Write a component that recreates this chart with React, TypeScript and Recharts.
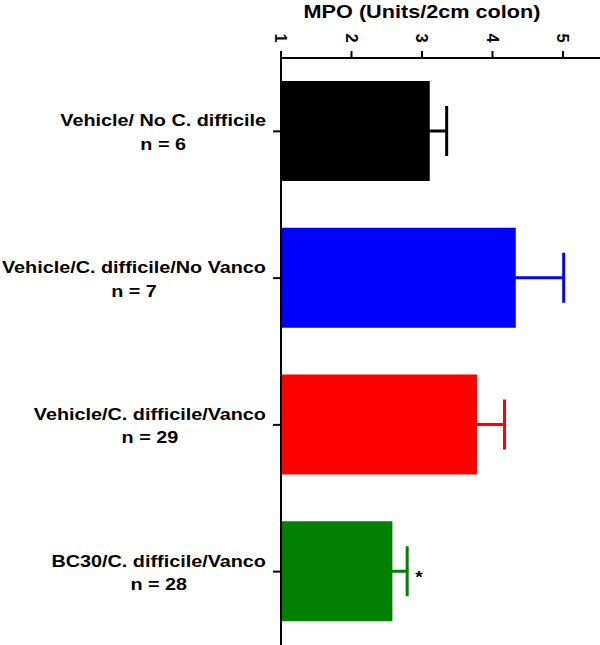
import React from 'react';
import { BarChart, Bar, XAxis, YAxis, Cell, ErrorBar, ReferenceDot } from 'recharts';

const categories = [
  'Vehicle/ No C. difficile',
  'Vehicle/C. difficile/No Vanco',
  'Vehicle/C. difficile/Vanco',
  'BC30/C. difficile/Vanco',
];
const groupSizes = [6, 7, 29, 28];
const meanValues = [3.11, 4.33, 3.78, 2.58];
const errorValues = [0.24, 0.68, 0.39, 0.21];
const barColors = ['#000000', '#0000ff', '#ff0000', '#008000'];
const xTicks = [1, 2, 3, 4, 5];
const xDomain = [1, 5.525];
const significantIndex = 3;
const axisTitle = 'MPO (Units/2cm colon)';

const data = categories.map((name, i) => {
  const row: any = { name, value: meanValues[i] };
  row['err' + i] = errorValues[i];
  return row;
});

const FONT = '"Liberation Sans", Arial, Helvetica, sans-serif';
const LABEL_SIZE = 16.5;
const LABEL_SX = 1.2;

let ctx: CanvasRenderingContext2D | null = null;
function measure(text: string, size: number) {
  if (!ctx) ctx = document.createElement('canvas').getContext('2d');
  if (!ctx) return text.length * size * 0.55;
  ctx.font = `bold ${size}px ${FONT}`;
  return ctx.measureText(text).width;
}

const YTick = (props: any) => {
  const { x, y, payload } = props;
  const idx = categories.indexOf(payload.value);
  const lines = [payload.value, `n = ${groupSizes[idx]}`];
  const w = Math.max(...lines.map((l) => measure(l, LABEL_SIZE))) * LABEL_SX;
  const cx = x - 1 - w / 2;
  return (
    <g>
      {lines.map((l, k) => (
        <text
          key={k}
          transform={`translate(${cx},${y - 5 + k * 23.5}) scale(${LABEL_SX},1)`}
          textAnchor="middle"
          fontFamily={FONT}
          fontWeight="bold"
          fontSize={LABEL_SIZE}
          fill="#000"
        >
          {l}
        </text>
      ))}
    </g>
  );
};

const XTick = (props: any) => {
  const { x, y, payload } = props;
  return (
    <text
      transform={`translate(${x},${y - 10}) rotate(90)`}
      textAnchor="middle"
      dy="0.36em"
      fontFamily={FONT}
      fontWeight="bold"
      fontSize={16.5}
      fill="#000"
    >
      {payload.value}
    </text>
  );
};

const TitleLabel = (props: any) => {
  const vb = props.viewBox || {};
  const mid = (xTicks[0] + xTicks[xTicks.length - 1]) / 2;
  const cx = vb.x + ((mid - xDomain[0]) / (xDomain[1] - xDomain[0])) * vb.width;
  return (
    <text
      transform={`translate(${cx},${vb.y + 18}) scale(1.17,1)`}
      textAnchor="middle"
      fontFamily={FONT}
      fontWeight="bold"
      fontSize={18.5}
      fill="#000"
    >
      {axisTitle}
    </text>
  );
};

const Star = (props: any) => {
  const { cx, cy } = props;
  return (
    <text
      transform={`translate(${cx + 8},${cy + 11.5}) scale(1.2,1)`}
      fontFamily={FONT}
      fontWeight="bold"
      fontSize={16}
      fill="#000"
    >
      *
    </text>
  );
};

export default function App() {
  return (
    <div style={{ position: 'absolute', left: 0, top: 0, width: 600, height: 645, background: '#fff' }}>
      <BarChart
        width={600}
        height={645}
        data={data}
        layout="vertical"
        margin={{ top: 0, right: 0, bottom: 0, left: 0 }}
      >
        <XAxis
          type="number"
          orientation="top"
          domain={xDomain}
          ticks={xTicks}
          allowDataOverflow
          height={58}
          tickSize={7}
          tickMargin={3}
          axisLine={{ stroke: '#000', strokeWidth: 2 }}
          tickLine={{ stroke: '#000', strokeWidth: 2 }}
          tick={<XTick />}
          label={(p: any) => <TitleLabel {...p} />}
        />
        <YAxis
          type="category"
          dataKey="name"
          width={281}
          tickSize={8}
          tickMargin={6}
          axisLine={{ stroke: '#000', strokeWidth: 2 }}
          tickLine={{ stroke: '#000', strokeWidth: 2 }}
          tick={<YTick />}
          interval={0}
        />
        <Bar dataKey="value" barSize={100} isAnimationActive={false}>
          {data.map((_, i) => (
            <Cell key={i} fill={barColors[i]} />
          ))}
          {categories.map((_, i) => (
            <ErrorBar
              key={i}
              dataKey={'err' + i}
              direction="x"
              width={25}
              stroke={barColors[i]}
              strokeWidth={3}
              isAnimationActive={false}
            />
          ))}
        </Bar>
        <ReferenceDot
          x={meanValues[significantIndex] + errorValues[significantIndex]}
          y={categories[significantIndex]}
          r={0}
          shape={<Star />}
        />
      </BarChart>
    </div>
  );
}
